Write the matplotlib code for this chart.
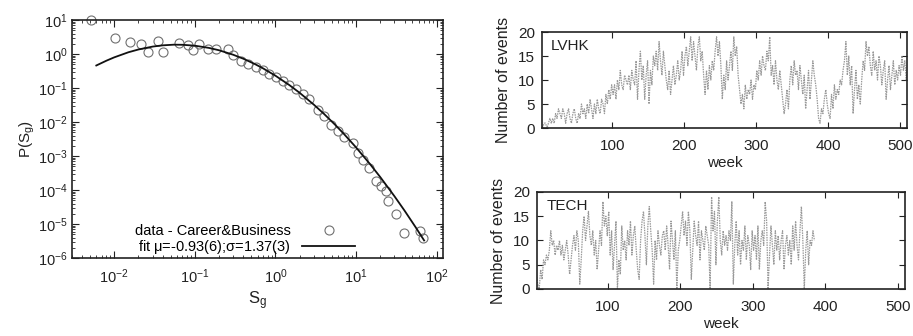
import numpy as np
import matplotlib.pyplot as plt
from matplotlib.ticker import LogLocator, NullFormatter, MultipleLocator

plt.rcParams['font.family'] = ['Liberation Sans', 'DejaVu Sans']
plt.rcParams['mathtext.fontset'] = 'custom'
plt.rcParams['mathtext.rm'] = 'Liberation Sans'
plt.rcParams['mathtext.it'] = 'Liberation Sans'

# left panel: size distribution, career & business groups
sg = [0.0051, 0.0103, 0.0157, 0.0214, 0.0264, 0.0345, 0.0407, 0.0645, 0.0815, 0.094,
      0.114, 0.144, 0.183, 0.256, 0.295, 0.375, 0.453, 0.575, 0.70, 0.84,
      1.02, 1.23, 1.49, 1.81, 2.19, 2.64, 3.36, 4.06, 4.9, 5.9,
      7.2, 9.1, 10.5, 12.2, 14.7, 17.8, 20.5, 23.7, 24.8, 31.6,
      39.8, 61.5, 67.8]
p_sg = [10.0, 3.0, 2.26, 2.0, 1.14, 2.37, 1.14, 2.16, 1.8, 1.28,
        1.93, 1.43, 1.37, 1.37, 0.906, 0.64, 0.51, 0.41, 0.35, 0.26,
        0.205, 0.163, 0.121, 0.092, 0.065, 0.046, 0.023, 0.0148, 0.0083, 0.0053,
        0.0037, 0.0024, 0.0012, 0.00076, 0.00043, 0.00019, 0.000135, 0.000095, 4.9e-5, 1.95e-5,
        5.5e-6, 6.2e-6, 4.0e-6]

fit_x = [0.006, 0.008, 0.01, 0.015, 0.02, 0.03, 0.04, 0.055, 0.07, 0.1,
         0.15, 0.2, 0.3, 0.4, 0.55, 0.7, 1.0, 1.5, 2.0, 3.0,
         4.0, 5.5, 7.0, 10.0, 15.0, 20.0, 30.0, 40.0, 55.0, 70.0]
fit_y = [0.46, 0.636, 0.797, 1.126, 1.36, 1.655, 1.80, 1.883, 1.87, 1.76,
         1.513, 1.29, 0.951, 0.728, 0.514, 0.381, 0.231, 0.1207, 0.0722, 0.0324,
         0.01744, 0.00833, 0.0046, 0.0018, 5.71e-4, 2.4e-4, 6.56e-5, 2.48e-5, 8.0e-6, 3.29e-6]

# right panels: weekly number of events (every second week)
lvhk = [1, 0, 1, 1, 0, 1, 2, 1, 2, 1,
        3, 2, 4, 3, 2, 4, 3, 1, 3, 4,
        2, 1, 3, 4, 2, 1, 3, 2, 5, 3,
        4, 2, 5, 3, 6, 4, 2, 5, 3, 6,
        4, 3, 6, 5, 3, 7, 5, 8, 6, 9,
        7, 9, 6, 10, 8, 12, 9, 8, 11, 10,
        9, 11, 8, 12, 10, 9, 14, 6, 12, 16,
        10, 13, 6, 11, 14, 5, 12, 9, 15, 13,
        16, 12, 18, 14, 11, 16, 13, 10, 8, 12,
        7, 10, 13, 9, 11, 14, 10, 12, 16, 11,
        15, 17, 13, 16, 19, 14, 18, 15, 12, 17,
        19, 14, 16, 11, 7, 12, 8, 13, 10, 14,
        12, 16, 19, 15, 18, 13, 6, 11, 8, 14,
        10, 13, 16, 12, 19, 15, 17, 11, 8, 5,
        7, 4, 9, 6, 8, 7, 10, 6, 9, 8,
        12, 10, 14, 11, 15, 13, 12, 16, 14, 19,
        11, 13, 9, 14, 10, 8, 12, 9, 6, 3,
        5, 8, 4, 10, 13, 9, 14, 11, 12, 8,
        13, 10, 7, 11, 4, 8, 12, 6, 10, 14,
        11, 9, 6, 2, 1, 4, 3, 6, 8, 5,
        3, 2, 7, 4, 9, 6, 8, 7, 10, 9,
        12, 14, 18, 11, 15, 9, 13, 3, 8, 12,
        6, 9, 5, 10, 14, 12, 18, 15, 17, 13,
        11, 16, 12, 14, 10, 15, 13, 9, 12, 14,
        6, 10, 13, 8, 11, 14, 9, 12, 10, 13,
        11, 15, 12, 14, 10, 13]
tech = [3, 1, 0, 4, 2, 6, 5, 7, 6, 8,
        12, 9, 10, 7, 9, 8, 10, 7, 9, 6,
        8, 10, 7, 3, 6, 9, 11, 8, 12, 10,
        1, 6, 12, 15, 10, 13, 16, 11, 9, 12,
        7, 10, 4, 8, 12, 9, 18, 13, 15, 11,
        16, 7, 12, 4, 9, 14, 0, 6, 3, 13,
        8, 10, 6, 12, 9, 14, 7, 11, 13, 8,
        4, 2, 10, 14, 16, 11, 5, 13, 17, 12,
        8, 1, 10, 6, 12, 9, 7, 11, 12, 8,
        13, 9, 4, 14, 10, 6, 12, 0, 8, 10,
        13, 16, 11, 14, 9, 16, 12, 2, 8, 14,
        11, 9, 14, 6, 12, 10, 8, 13, 11, 9,
        0, 19, 12, 16, 5, 14, 19, 10, 7, 12,
        9, 11, 8, 12, 10, 18, 1, 9, 14, 7,
        12, 5, 10, 8, 13, 6, 11, 9, 4, 12,
        8, 11, 6, 13, 4, 10, 12, 9, 18, 14,
        0, 7, 13, 9, 5, 12, 8, 11, 6, 10,
        12, 4, 9, 11, 7, 10, 5, 13, 8, 14,
        9, 6, 12, 17, 10, 0, 8, 12, 5, 10,
        9, 12, 10]
weeks_lvhk = np.arange(len(lvhk)) * 2 + 1
weeks_tech = np.arange(len(tech)) * 2 + 1

ink = '#222222'
fig = plt.figure(figsize=(9.13, 3.36), dpi=100)

ax = fig.add_axes([0.0789, 0.2321, 0.4063, 0.7083])
ax.set_xscale('log')
ax.set_yscale('log')
ax.plot(sg, p_sg, 'o', mfc='none', mec='#707070', mew=0.8, ms=6.5, clip_on=False,
        label='data - Career&Business')
ax.plot(fit_x, fit_y, '-', color='#111111', lw=1.3,
        label=r'fit $\mathrm{\mu}$=-0.93(6);$\mathrm{\sigma}$=1.37(3)')
ax.set_xlim(3e-3, 120)
ax.set_ylim(1e-6, 10)
ax.xaxis.set_major_locator(LogLocator(base=10, numticks=10))
ax.yaxis.set_major_locator(LogLocator(base=10, numticks=10))
ax.xaxis.set_minor_locator(LogLocator(base=10, subs=np.arange(2, 10), numticks=20))
ax.yaxis.set_minor_locator(LogLocator(base=10, subs=np.arange(2, 10), numticks=20))
ax.xaxis.set_minor_formatter(NullFormatter())
ax.yaxis.set_minor_formatter(NullFormatter())
ax.tick_params(which='both', direction='in', top=True, right=True, colors=ink, labelsize=10.5)
ax.tick_params(which='major', length=5, width=0.8)
ax.tick_params(which='minor', length=2.5, width=0.6)
ax.tick_params(axis='x', pad=7)
ax.tick_params(axis='y', pad=3)
for s in ax.spines.values():
    s.set_linewidth(1.2)
    s.set_color(ink)
ax.set_xlabel(r'S$_\mathrm{g}$', fontsize=12, color=ink, labelpad=2)
ax.set_ylabel(r'P(S$_\mathrm{g}$)', fontsize=11, color=ink, labelpad=1)
ax.legend(loc='lower right', bbox_to_anchor=(0.79, -0.035), frameon=False,
          markerfirst=False, fontsize=10.5, handlelength=3.6, labelspacing=0.0,
          handletextpad=0.8, borderpad=0.2)

panels = [
    ([0.5936, 0.619, 0.3998, 0.2857], weeks_lvhk, lvhk, 'LVHK'),
    ([0.5882, 0.1399, 0.403, 0.2887], weeks_tech, tech, 'TECH'),
]
for rect, wk, vals, name in panels:
    a = fig.add_axes(rect)
    a.plot(wk, vals, color='#999999', lw=0.9, ls=(0, (1.2, 0.8)))
    a.set_xlim(2, 510)
    a.set_ylim(0, 20)
    a.set_xticks([100, 200, 300, 400, 500])
    a.yaxis.set_major_locator(MultipleLocator(5))
    a.tick_params(direction='in', top=True, right=True, length=4, width=0.8,
                  colors=ink, labelsize=11)
    a.tick_params(axis='x', pad=8)
    a.tick_params(axis='y', pad=5)
    for s in a.spines.values():
        s.set_linewidth(1.2)
        s.set_color(ink)
    a.text(0.025, 0.93, name, transform=a.transAxes, ha='left', va='top',
           fontsize=11, color=ink)
    a.set_xlabel('week', fontsize=11, color=ink, labelpad=2)
    a.set_ylabel('Number of events', fontsize=11.5, color=ink, labelpad=5)

fig.savefig('out.png', dpi=100)
